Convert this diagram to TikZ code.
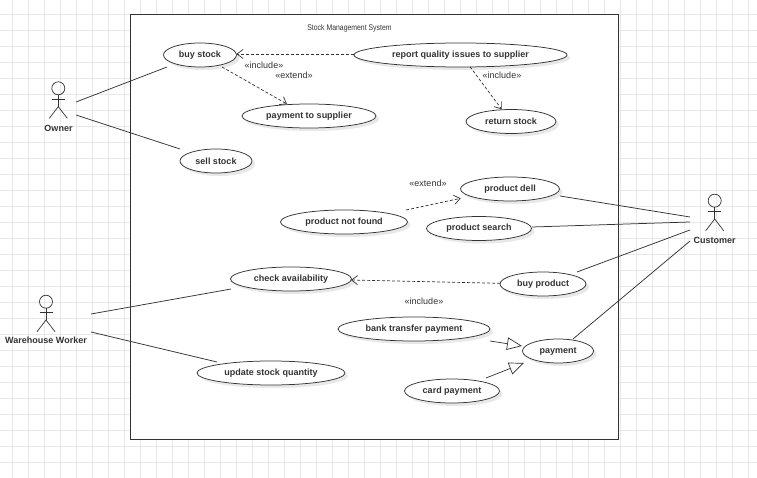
\documentclass[tikz,border=0pt]{standalone}
\usepackage{graphicx}
\usepackage{fontspec}
\setmainfont{Liberation Sans}
\usetikzlibrary{arrows.meta,shadows,shapes.geometric}
\definecolor{gridc}{HTML}{E8E8E8}
\definecolor{inkc}{HTML}{333333}
\tikzset{
  uc/.style={draw=inkc,fill=white,ellipse,line width=.75pt,inner sep=0pt,text=inkc,
    copy shadow={shadow xshift=3pt,shadow yshift=-3pt,draw=none,fill=black!9}},
  uclabel/.style={font=\fontsize{9}{0}\selectfont\bfseries,text=inkc,inner sep=0pt},
  assoc/.style={draw=inkc,line width=.75pt},
  dep/.style={draw=inkc,line width=.7pt,dash pattern=on 3pt off 2pt,-{Straight Barb[length=6pt,width=9pt]}},
  gen/.style={draw=inkc,line width=.7pt,-{Triangle[open,length=15pt,width=12.5pt,fill=white]}},
  lbl/.style={font=\fontsize{9}{10}\selectfont,text=inkc,inner sep=0pt},
  titlelbl/.style={font=\fontsize{8.2}{9}\selectfont,text=inkc,inner sep=0pt},
  actorname/.style={font=\fontsize{9}{11}\selectfont\bfseries,text=inkc,inner sep=0pt},
  stick/.style={draw=inkc,line width=.7pt}
}
\newcommand{\stickman}[2]{%
  \draw[stick] (#1,#2) circle (6.5pt);
  \draw[stick] (#1,#2+6.5) -- (#1,#2+18.3);
  \draw[stick] (#1-6.5,#2+10.6) -- (#1+6.5,#2+10.6);
  \draw[stick] (#1-9,#2+30) -- (#1,#2+18.3) -- (#1+9,#2+30);
}
\newcommand{\usecase}[5]{% name, x, y, w, text
  \node[uc,minimum width=#4pt,minimum height=24pt] (#1) at (#2,#3) {};
  \node[uclabel] (#1text) at (#2,#3) {#5};
}
\begin{document}
\begin{tikzpicture}[x=1pt,y=-1pt]
\useasboundingbox (0,0) rectangle (757,478);
\fill[white] (0,0) rectangle (757,478);
\foreach \k in {0,...,46} \draw[gridc,line width=.6pt] (12.7+16*\k,0) -- (12.7+16*\k,478);
\foreach \k in {0,...,29} \draw[gridc,line width=.6pt] (0,14+16*\k) -- (757,14+16*\k);

\node[draw=inkc,fill=white,line width=.9pt,minimum width=488pt,minimum height=425pt,inner sep=0pt,anchor=north west] (frame) at (130,14) {};
\node[titlelbl] (title) at (349.5,28) {\scalebox{.84}[1]{Stock Management System}};

\usecase{buy}{200}{55}{73}{buy stock}
\usecase{report}{460.5}{55}{213}{report quality issues to supplier}
\usecase{paysup}{309}{116}{134}{payment to supplier}
\usecase{return}{511}{121.5}{90}{return stock}
\usecase{sell}{216}{161}{72}{sell stock}
\usecase{dell}{510}{189}{99}{product dell}
\usecase{notfound}{344}{222}{127}{product not found}
\usecase{search}{479}{228.5}{105}{product search}
\usecase{check}{291}{279}{121}{check availability}
\usecase{buyprod}{543}{284}{86}{buy product}
\usecase{bank}{414}{329}{152}{bank transfer payment}
\usecase{payment}{558}{351}{71}{payment}
\usecase{update}{271}{373}{148}{update stock quantity}
\usecase{card}{452}{391}{95}{card payment}

\node[lbl] (l1) at (264,65) {«include»};
\node[lbl] (l2) at (294,75) {«extend»};
\node[lbl] (l3) at (502,75) {«include»};
\node[lbl] (l4) at (428,183) {«extend»};
\node[lbl] (l5) at (424,301) {«include»};

\stickman{58.3}{88.3}
\stickman{714.7}{200.7}
\stickman{46}{301.7}
\node[actorname] (owner) at (58.5,128) {Owner};
\node[actorname] (customer) at (714.5,240) {Customer};
\node[actorname] (worker) at (46,340.5) {Warehouse Worker};

\coordinate (o1) at (76,102); \coordinate (o2) at (76,115);
\coordinate (a1) at (167,67); \coordinate (a2) at (180,149);
\coordinate (w1) at (91,314); \coordinate (w2) at (91,332);
\coordinate (a3) at (231,289); \coordinate (a4) at (217,362);
\coordinate (c1) at (690,217); \coordinate (c2) at (690,222);
\coordinate (c3) at (690,230); \coordinate (c4) at (690,241);
\coordinate (a5) at (560,196); \coordinate (a6) at (532,227);
\coordinate (a7) at (577,272); \coordinate (a8) at (573,339);
\draw[assoc] (o1) -- (a1);
\draw[assoc] (o2) -- (a2);
\draw[assoc] (w1) -- (a3);
\draw[assoc] (w2) -- (a4);
\draw[assoc] (a5) -- (c1);
\draw[assoc] (a6) -- (c2);
\draw[assoc] (a7) -- (c3);
\draw[assoc] (a8) -- (c4);

\coordinate (d1a) at (354,54); \coordinate (d1b) at (236.5,54);
\coordinate (d2a) at (222,67); \coordinate (d2b) at (287,104);
\coordinate (d3a) at (470,66.7); \coordinate (d3b) at (501.7,109.3);
\coordinate (d4a) at (406,210); \coordinate (d4b) at (460.7,198.3);
\coordinate (d5a) at (500,283.3); \coordinate (d5b) at (351,280);
\draw[dep] (d1a) -- (d1b);
\draw[dep] (d2a) -- (d2b);
\draw[dep] (d3a) -- (d3b);
\draw[dep] (d4a) -- (d4b);
\draw[dep] (d5a) -- (d5b);

\coordinate (g1a) at (490,341); \coordinate (g1b) at (522,346);
\coordinate (g2a) at (486,378); \coordinate (g2b) at (524,363);
\draw[gen] (g1a) -- (g1b);
\draw[gen] (g2a) -- (g2b);
\end{tikzpicture}
\end{document}
